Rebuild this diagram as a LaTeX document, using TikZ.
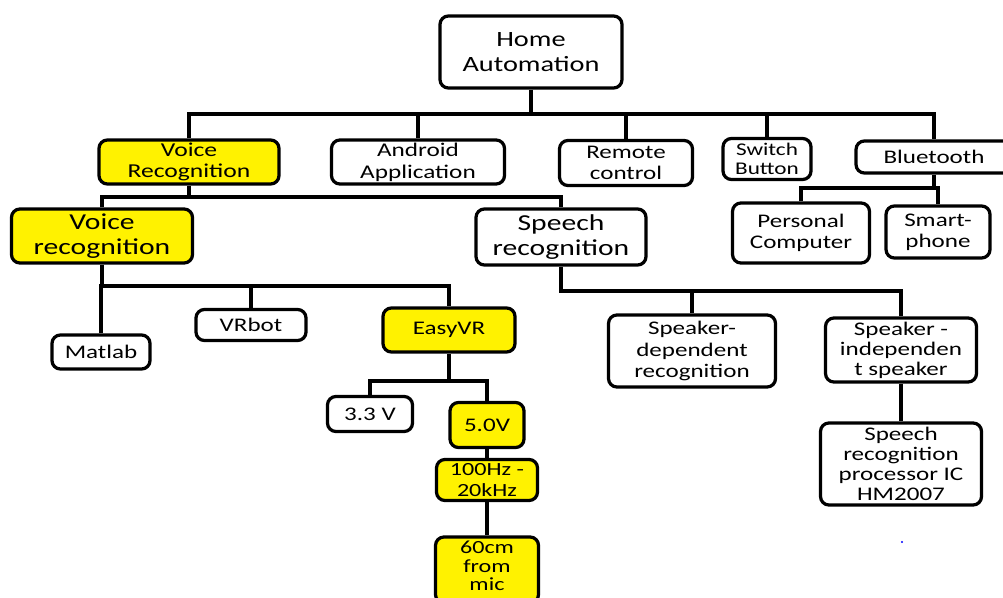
\documentclass[tikz,border=0pt]{standalone}
\usepackage{fontspec}
\setmainfont[FakeStretch=1.3]{Carlito}
\usepackage{tikz}

\begin{document}
\begin{tikzpicture}[x=0.025cm, y=-0.025cm, line width=2.3pt,
  every node/.style = {shape=rectangle, rounded corners=6pt,
    draw, align=center, inner sep=0pt, fill=white,
    font=\fontsize{13.7}{15}\selectfont},
  yel/.style = {fill=yellow},
  big/.style = {font=\fontsize{16.2}{17.8}\selectfont},
  sz/.style 2 args = {minimum width=#1*0.025cm, minimum height=#2*0.025cm}]
  \useasboundingbox (0,0) rectangle (1003,597);
  \clip (0,0) rectangle (1003,597);

  \node[sz={182}{72}, font=\fontsize{15.5}{17.8}\selectfont] (home) at (531,52) {Home\\Automation};

  \node[sz={180}{44}, yel, font=\fontsize{14}{14.5}\selectfont] (vrA) at (189,162) {Voice\\Recognition};
  \node[sz={173}{44}, font=\fontsize{13.8}{15.6}\selectfont] (android) at (418,162) {Android\\Application};
  \node[sz={133}{45}] (remote) at (626,163) {Remote\\control};
  \node[sz={88}{41}, font=\fontsize{12.7}{13.5}\selectfont] (switch) at (767,159) {Switch\\Button};
  \node[sz={156}{32}] (btooth) at (934,157) {Bluetooth};

  \node[sz={181}{54}, yel, big] (vrB) at (102,236) {Voice\\recognition};
  \node[sz={170}{56}, big] (speech) at (561,237) {Speech\\recognition};
  \node[sz={137}{60}] (pc) at (801,233) {Personal\\Computer};
  \node[sz={104}{52}] (smart) at (938,232) {Smart-\\phone};

  \node[sz={98}{34}] (matlab) at (101,352) {Matlab};
  \node[sz={110}{31}] (vrbot) at (251,325) {VRbot};
  \node[sz={132}{44}, yel] (easyvr) at (449,330) {EasyVR};
  \node[sz={85}{35}] (v33) at (370,414) {3.3 V};
  \node[sz={74}{45}, yel] (v50) at (487,425) {5.0V};
  \node[sz={101}{41}, yel, font=\fontsize{13.2}{14.5}\selectfont] (freq) at (487,480) {100Hz -\\20kHz};
  \node[sz={103}{66}, yel, text depth=6pt, font=\fontsize{13.2}{13}\selectfont] (mic) at (487,570) {60cm\\from\\mic};

  \node[sz={167}{72}] (spkdep) at (692,351) {Speaker-\\dependent\\recognition};
  \node[sz={151}{64}, font=\fontsize{13.7}{14.2}\selectfont] (spkind) at (901,350) {Speaker -\\independen\\t speaker};
  \node[sz={161}{82}, font=\fontsize{13.7}{14.2}\selectfont] (hm) at (901,464) {Speech\\recognition\\processor IC\\HM2007};

  \draw (home.south) -- (home.south |- 0,114);
  \draw (vrA.north) |- (btooth.north |- 0,114) -- (btooth.north);
  \foreach \n in {android, remote, switch}
    \draw (\n.north) -- (\n.north |- 0,114);

  \draw (vrA.south) -- (vrA.south |- 0,197);
  \draw (vrB.north) |- (speech.north |- 0,197) -- (speech.north);

  \draw (vrB.south) -- (vrB.south |- 0,286);
  \draw (matlab.north) |- (easyvr.north |- 0,286) -- (easyvr.north);
  \draw (vrbot.north) -- (vrbot.north |- 0,286);

  \draw (easyvr.south) -- (easyvr.south |- 0,381);
  \draw (v33.north) |- (v50.north |- 0,381) -- (v50.north);
  \draw (v50.south) -- (freq.north);
  \draw (freq.south) -- (mic.north);

  \draw (speech.south) |- (spkind.north |- 0,291) -- (spkind.north);
  \draw (spkdep.north) -- (spkdep.north |- 0,291);
  \draw (spkind.south) -- (hm.north);

  \draw (btooth.south) -- (btooth.south |- 0,188);
  \draw (pc.north) |- (smart.north |- 0,188) -- (smart.north);

  \fill[blue] (902,542) circle (1.2);
\end{tikzpicture}
\end{document}
